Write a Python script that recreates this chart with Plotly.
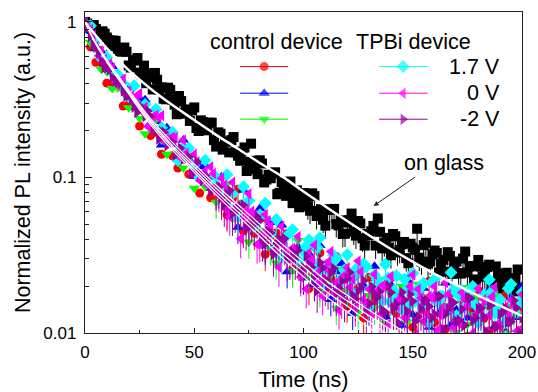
import plotly.graph_objects as go

# ---------------- data ----------------
T_GLASS = [0, 2, 4, 6, 8, 10, 12, 14, 16, 18, 20, 22, 24, 26, 28, 30, 32, 34, 36, 38,
           40, 42, 44, 46, 48, 50, 52, 54, 56, 58, 60, 62, 64, 66, 68, 70, 72, 74, 76, 78,
           80, 82, 84, 86, 88, 90, 92, 94, 96, 98, 100, 102, 104, 106, 108, 110, 112, 114, 116, 118,
           120, 122, 124, 126, 128, 130, 132, 134, 136, 138, 140, 142, 144, 146, 148, 150, 152, 154, 156, 158,
           160, 162, 164, 166, 168, 170, 172, 174, 176, 178, 180, 182, 184, 186, 188, 190, 192, 194, 196, 198, 200]

GLASS = [1.000, 0.933, 0.955, 0.832, 0.871, 0.794, 0.698, 0.755, 0.649, 0.685,
         0.525, 0.568, 0.586, 0.459, 0.404, 0.468, 0.470, 0.366, 0.321, 0.378,
         0.316, 0.255, 0.310, 0.274, 0.231, 0.282, 0.199, 0.227, 0.201, 0.225,
         0.158, 0.191, 0.170, 0.145, 0.182, 0.138, 0.147, 0.110, 0.165, 0.113,
         0.129, 0.0929, 0.104, 0.106, 0.0780, 0.0933, 0.0762, 0.0942, 0.0769, 0.0643,
         0.0794, 0.0652, 0.0791, 0.0565, 0.0625, 0.0490, 0.0622, 0.0628, 0.0492, 0.0433,
         0.0513, 0.0586, 0.0423, 0.0506, 0.0365, 0.0427, 0.0488, 0.0545, 0.0350, 0.0409,
         0.0316, 0.0419, 0.0342, 0.0385, 0.0281, 0.0355, 0.0468, 0.0288, 0.0380, 0.0288,
         0.0339, 0.0245, 0.0295, 0.0331, 0.0240, 0.0288, 0.0241, 0.0334, 0.0267, 0.0213,
         0.0295, 0.0230, 0.0265, 0.0193, 0.0268, 0.0209, 0.0241, 0.0221, 0.0185, 0.0256,
         0.0195]

T_GLASS_ODD = [1, 3, 5, 7, 9, 11, 13, 15, 17, 19, 21, 23, 25, 27, 29, 31, 33, 35, 37, 39,
               41, 43, 45, 47, 49, 51, 53, 55, 57, 59, 61, 63, 65, 67, 69, 71, 73, 75, 77, 79,
               81, 83, 85, 87, 89, 91, 93, 95, 97, 99, 101, 103, 105, 107, 109, 111, 113, 115, 117, 119,
               121, 123, 125, 127, 129, 131, 133, 135, 137, 139, 141, 143, 145, 147, 149, 151, 153, 155, 157, 159,
               161, 163, 165, 167, 169, 171, 173, 175, 177, 179, 181, 183, 185, 187, 189, 191, 193, 195, 197, 199]

GLASS_ODD = [0.977, 0.902, 0.900, 0.813, 0.841, 0.762, 0.760, 0.668, 0.644, 0.643,
             0.509, 0.564, 0.473, 0.524, 0.440, 0.368, 0.425, 0.380, 0.318, 0.366,
             0.294, 0.334, 0.257, 0.261, 0.270, 0.208, 0.233, 0.207, 0.225, 0.174,
             0.195, 0.151, 0.170, 0.174, 0.145, 0.128, 0.156, 0.126, 0.128, 0.105,
             0.123, 0.0970, 0.0989, 0.108, 0.0796, 0.0873, 0.0877, 0.0684, 0.0826, 0.0690,
             0.0728, 0.0611, 0.0759, 0.0608, 0.0535, 0.0619, 0.0625, 0.0501, 0.0530, 0.0435,
             0.0532, 0.0449, 0.0525, 0.0406, 0.0433, 0.0451, 0.0365, 0.0447, 0.0378, 0.0352,
             0.0433, 0.0330, 0.0372, 0.0303, 0.0375, 0.0343, 0.0305, 0.0367, 0.0279, 0.0320,
             0.0327, 0.0278, 0.0248, 0.0313, 0.0272, 0.0243, 0.0301, 0.0245, 0.0270, 0.0221,
             0.0267, 0.0233, 0.0275, 0.0210, 0.0237, 0.0193, 0.0244, 0.0204, 0.0225, 0.0192]

T_DEV = [0, 2.5, 5, 7.5, 10, 12.5, 15, 17.5, 20, 22.5, 25, 27.5, 30, 32.5, 35, 37.5, 40,
         42.5, 45, 47.5, 50, 52.5, 55, 57.5, 60, 62.5, 65, 67.5, 70, 72.5, 75, 77.5, 80,
         82.5, 85, 87.5, 90, 92.5, 95, 97.5, 100, 102.5, 105, 107.5, 110, 112.5, 115, 117.5, 120,
         122.5, 125, 127.5, 130, 132.5, 135, 137.5, 140, 142.5, 145, 147.5, 150, 152.5, 155, 157.5, 160,
         162.5, 165, 167.5, 170, 172.5, 175, 177.5, 180, 182.5, 185, 187.5, 190, 192.5, 195, 197.5, 200]

T_DEV_MID = [1.25, 3.75, 6.25, 8.75, 11.25, 13.75, 16.25, 18.75, 21.25, 23.75, 26.25, 28.75,
             31.25, 33.75, 36.25, 38.75, 41.25, 43.75, 46.25, 48.75, 51.25, 53.75, 56.25, 58.75,
             61.25, 63.75, 66.25, 68.75, 71.25, 73.75, 76.25, 78.75, 81.25, 83.75, 86.25, 88.75,
             91.25, 93.75, 96.25, 98.75, 101.25, 103.75, 106.25, 108.75, 111.25, 113.75, 116.25, 118.75,
             121.25, 123.75, 126.25, 128.75, 131.25, 133.75, 136.25, 138.75, 141.25, 143.75, 146.25, 148.75,
             151.25, 153.75, 156.25, 158.75, 161.25, 163.75, 166.25, 168.75, 171.25, 173.75, 176.25, 178.75,
             181.25, 183.75, 186.25, 188.75, 191.25, 193.75, 196.25, 198.75]

CTRL_1V7 = [0.980, 0.692, 0.550, 0.548, 0.404, 0.385, 0.394, 0.288, 0.294,
            0.295, 0.214, 0.263, 0.186, 0.195, 0.141, 0.174, 0.138, 0.115, 0.148, 0.105, 0.104, 0.0794, 0.100, 0.0741, 0.0891,
            0.0750, 0.0575, 0.0733, 0.0841, 0.0452, 0.0575, 0.0437, 0.0570, 0.0320, 0.0422, 0.0440, 0.0318, 0.0437, 0.0257, 0.0285, 0.0335,
            0.0193, 0.0279, 0.0328, 0.0191, 0.0224, 0.0310, 0.0180, 0.0149, 0.0225, 0.0194,
            0.0125, 0.0228, 0.0160, 0.0192, 0.0129, 0.0226, 0.0134, 0.0158, 0.0207, 0.0109,
            0.0186, 0.0142, 0.0215, 0.0117, 0.0157, 0.0106, 0.0181, 0.0122, 0.0163, 0.0095,
            0.0141, 0.0188, 0.0124, 0.0103, 0.0162, 0.0112, 0.0176, 0.0129, 0.0092, 0.0146]

CTRL_0V = [1.000, 0.879, 0.673, 0.649, 0.520, 0.518, 0.391, 0.398, 0.378,
           0.282, 0.324, 0.316, 0.224, 0.229, 0.162, 0.209, 0.163, 0.132, 0.174, 0.131, 0.102, 0.117, 0.120, 0.0851, 0.0871,
           0.101, 0.0676, 0.0804, 0.0479, 0.0832, 0.0475, 0.0569, 0.0631, 0.0363, 0.0513, 0.0376, 0.0495, 0.0248, 0.0347, 0.0359, 0.0226,
           0.0325, 0.0205, 0.0365, 0.0250, 0.0164, 0.0248, 0.0279, 0.0180, 0.0134, 0.0244,
           0.0202, 0.0148, 0.0269, 0.0167, 0.0127, 0.0204, 0.0184, 0.0112, 0.0221, 0.0131,
           0.0161, 0.0194, 0.0109, 0.0175, 0.0136, 0.0210, 0.0113, 0.0141, 0.0189, 0.0125,
           0.0170, 0.0095, 0.0150, 0.0188, 0.0110, 0.0153, 0.0101, 0.0169, 0.0126, 0.0200]

CTRL_M2V = [0.955, 0.738, 0.676, 0.494, 0.481, 0.373, 0.377, 0.358, 0.281,
            0.316, 0.240, 0.191, 0.234, 0.236, 0.174, 0.141, 0.182, 0.142, 0.115, 0.132, 0.0851, 0.105, 0.0871, 0.0977, 0.0692,
            0.0813, 0.0912, 0.0543, 0.0582, 0.0692, 0.0385, 0.0562, 0.0457, 0.0543, 0.0347, 0.0282, 0.0412, 0.0335, 0.0251, 0.0394, 0.0257,
            0.0232, 0.0350, 0.0187, 0.0282, 0.0238, 0.0144, 0.0256, 0.0187, 0.0220, 0.0136,
            0.0258, 0.0174, 0.0144, 0.0222, 0.0116, 0.0179, 0.0143, 0.0199, 0.0118, 0.0154,
            0.0206, 0.0117, 0.0171, 0.0097, 0.0174, 0.0132, 0.0150, 0.0101, 0.0196, 0.0114,
            0.0131, 0.0169, 0.0095, 0.0146, 0.0172, 0.0114, 0.0100, 0.0149, 0.0131, 0.0102]

TPBI_1V7 = [0.977, 0.946, 0.755, 0.583, 0.592, 0.472, 0.457, 0.400, 0.331,
            0.389, 0.282, 0.295, 0.214, 0.275, 0.209, 0.170, 0.195, 0.129, 0.155, 0.154, 0.120, 0.100, 0.129, 0.0955, 0.0995,
            0.0804, 0.104, 0.0785, 0.0556, 0.0871, 0.0708, 0.0484, 0.0575, 0.0684, 0.0437, 0.0537, 0.0309, 0.0422, 0.0462, 0.0295, 0.0335,
            0.0396, 0.0261, 0.0409, 0.0201, 0.0279, 0.0302, 0.0225, 0.0319, 0.0178, 0.0242,
            0.0279, 0.0147, 0.0236, 0.0195, 0.0277, 0.0158, 0.0233, 0.0142, 0.0193, 0.0242,
            0.0160, 0.0209, 0.0117, 0.0222, 0.0173, 0.0143, 0.0245, 0.0129, 0.0187, 0.0152,
            0.0199, 0.0116, 0.0175, 0.0220, 0.0134, 0.0164, 0.0118, 0.0206, 0.0148, 0.0182]

# extra 1.7 V samples between the grid points, from 101.25 ns on
TPBI_1V7_MID_LATE = [0.0363, 0.0288, 0.0355, 0.0245, 0.0275, 0.0316, 0.0204, 0.0254, 0.0224, 0.0256,
                     0.0193, 0.0266, 0.0197, 0.0221, 0.0160, 0.0226, 0.0188, 0.0170, 0.0222, 0.0153,
                     0.0186, 0.0198, 0.0151, 0.0211, 0.0158, 0.0172, 0.0138, 0.0189, 0.0174, 0.0145,
                     0.0187, 0.0152, 0.0129, 0.0171, 0.0185, 0.0150, 0.0135, 0.0193, 0.0139, 0.0158]

TPBI_0V = [0.990, 0.895, 0.695, 0.661, 0.522, 0.506, 0.393, 0.429, 0.360,
           0.302, 0.347, 0.283, 0.209, 0.251, 0.250, 0.178, 0.182, 0.138, 0.174, 0.129, 0.141, 0.0955, 0.110, 0.117, 0.0813,
           0.0989, 0.0617, 0.0933, 0.0661, 0.0556, 0.0785, 0.0575, 0.0380, 0.0578, 0.0484, 0.0343, 0.0486, 0.0331, 0.0351, 0.0417, 0.0245,
           0.0327, 0.0368, 0.0214, 0.0262, 0.0334, 0.0211, 0.0164, 0.0263, 0.0222, 0.0290,
           0.0165, 0.0191, 0.0239, 0.0131, 0.0201, 0.0232, 0.0150, 0.0177, 0.0129, 0.0236,
           0.0191, 0.0119, 0.0172, 0.0199, 0.0131, 0.0211, 0.0145, 0.0120, 0.0182, 0.0148,
           0.0100, 0.0193, 0.0164, 0.0130, 0.0197, 0.0110, 0.0147, 0.0163, 0.0103, 0.0177]

TPBI_0V_MID = [0.910, 0.820, 0.607, 0.573, 0.538, 0.430, 0.417, 0.340, 0.334, 0.337,
               0.265, 0.213, 0.247, 0.242, 0.171, 0.177, 0.180, 0.136, 0.143, 0.107,
               0.126, 0.106, 0.0891, 0.106, 0.0796, 0.0895, 0.0561, 0.0635, 0.0403, 0.0610,
               0.0607, 0.0372, 0.0436, 0.0526, 0.0333, 0.0265, 0.0364, 0.0302, 0.0346, 0.0229,
               0.0192, 0.0295, 0.0243, 0.0173, 0.0287, 0.0183, 0.0140, 0.0235, 0.0196, 0.0146,
               0.0248, 0.0156, 0.0132, 0.0186, 0.0203, 0.0114, 0.0150, 0.0165, 0.0126, 0.0199,
               0.0098, 0.0168, 0.0133, 0.0170, 0.0104, 0.0144, 0.0177, 0.0108, 0.0115, 0.0167,
               0.0095, 0.0131, 0.0146, 0.0100, 0.0171, 0.0114, 0.0088, 0.0136, 0.0150, 0.0104]

TPBI_M2V = [1.000, 0.805, 0.689, 0.558, 0.506, 0.439, 0.410, 0.360, 0.337,
            0.283, 0.289, 0.247, 0.248, 0.199, 0.197, 0.160, 0.169, 0.145, 0.131, 0.136, 0.108, 0.106, 0.103, 0.0809, 0.0859,
            0.0740, 0.0780, 0.0585, 0.0632, 0.0665, 0.0499, 0.0501, 0.0528, 0.0378, 0.0439, 0.0371, 0.0391, 0.0301, 0.0332, 0.0341, 0.0262,
            0.0277, 0.0229, 0.0284, 0.0221, 0.0244, 0.0179, 0.0216, 0.0224, 0.0175, 0.0186,
            0.0217, 0.0154, 0.0179, 0.0185, 0.0136, 0.0182, 0.0154, 0.0183, 0.0138, 0.0160,
            0.0127, 0.0161, 0.0148, 0.0132, 0.0172, 0.0133, 0.0158, 0.0119, 0.0142, 0.0169,
            0.0120, 0.0143, 0.0127, 0.0152, 0.0111, 0.0132, 0.0144, 0.0118, 0.0145, 0.0125]

TPBI_M2V_MID = [0.920, 0.716, 0.632, 0.508, 0.493, 0.416, 0.405, 0.333, 0.318, 0.262,
                0.278, 0.268, 0.210, 0.176, 0.195, 0.166, 0.139, 0.154, 0.132, 0.106,
                0.126, 0.0957, 0.0973, 0.0849, 0.0873, 0.0668, 0.0824, 0.0612, 0.0647, 0.0471,
                0.0530, 0.0560, 0.0399, 0.0449, 0.0320, 0.0407, 0.0405, 0.0304, 0.0305, 0.0249,
                0.0312, 0.0265, 0.0187, 0.0263, 0.0196, 0.0261, 0.0194, 0.0163, 0.0245, 0.0166,
                0.0196, 0.0138, 0.0198, 0.0169, 0.0140, 0.0201, 0.0145, 0.0115, 0.0163, 0.0177,
                0.0119, 0.0143, 0.0162, 0.0125, 0.0172, 0.0106, 0.0143, 0.0157, 0.0121, 0.0112,
                0.0167, 0.0125, 0.0144, 0.0102, 0.0153, 0.0110, 0.0137, 0.0118, 0.0162, 0.0101]

# fitted curves
T_FIT_GLASS = [0, 10, 20, 30, 40, 50, 60, 70, 80, 90, 100, 120, 140, 160, 180, 200]
FIT_GLASS = [1.0, 0.676, 0.490, 0.372, 0.292, 0.234, 0.188, 0.153, 0.124, 0.102,
             0.0813, 0.0525, 0.0347, 0.0240, 0.0174, 0.0129]

T_FIT_DEV = [0, 5, 10, 20, 30, 40, 50, 60, 70, 80, 90, 100, 110, 120, 130, 140, 150]
FIT_DEV_A = [1.0, 0.731, 0.571, 0.366, 0.239, 0.168, 0.122, 0.0895, 0.0670, 0.0501,
             0.0375, 0.0287, 0.0219, 0.0175, 0.0140, 0.0115, 0.0094]
FIT_DEV_B = [1.0, 0.726, 0.565, 0.358, 0.232, 0.161, 0.117, 0.0853, 0.0634, 0.0471,
             0.0351, 0.0267, 0.0203, 0.0161, 0.0129, 0.0105, 0.0085]
FIT_DEV_C = [1.0, 0.723, 0.558, 0.351, 0.226, 0.156, 0.112, 0.0811, 0.0600, 0.0444,
             0.0327, 0.0248, 0.0187, 0.0149, 0.0118, 0.0095, 0.0077]
FIT_DEV_D = [1.0, 0.718, 0.552, 0.344, 0.219, 0.150, 0.108, 0.0773, 0.0568, 0.0417,
             0.0306, 0.0230, 0.0173, 0.0137, 0.0108, 0.0087, 0.0070]

X_TICKS = [0, 50, 100, 150, 200]
Y_TICKS = [0.01, 0.1, 1]
Y_TICK_TEXT = ["0.01", "0.1", "1"]
VOLT_LABELS = ["1.7 V", "0 V", "-2 V"]

# ---------------- styling ----------------
FONT = "Liberation Sans, Arial, sans-serif"
C_RED, C_BLUE, C_GREEN = "#FF0000", "#0000FF", "#00FF00"
C_CYAN, C_MAG, C_PUR = "#00FFFF", "#FF00FF", "#990099"
TXT = 21.5
SPLIT_DEV = 24      # index from which the (noisy) points show their error bars
SPLIT_GLASS = 50

fig = go.Figure()


def add_points(parts, symbol, color, size, err_pct):
    """parts: list of (t, v, with_error_bars) pieces drawn as one series."""
    for t, v, with_err in parts:
        err = dict(visible=False)
        if with_err:
            err = dict(type="percent", symmetric=False, value=0, valueminus=err_pct,
                       color=color, thickness=1, width=0)
        fig.add_trace(go.Scatter(
            x=t, y=v, mode="markers", showlegend=False, hoverinfo="skip",
            marker=dict(symbol=symbol, color=color, size=size, line=dict(width=0)),
            error_y=err))


def dev_parts(t_a, v_a, t_b=None, v_b=None):
    parts = [(t_a[:SPLIT_DEV], v_a[:SPLIT_DEV], False), (t_a[SPLIT_DEV:], v_a[SPLIT_DEV:], True)]
    if t_b is not None:
        parts += [(t_b[:SPLIT_DEV], v_b[:SPLIT_DEV], False), (t_b[SPLIT_DEV:], v_b[SPLIT_DEV:], True)]
    return parts


add_points([(T_GLASS[:SPLIT_GLASS] + T_GLASS_ODD[:SPLIT_GLASS], GLASS[:SPLIT_GLASS] + GLASS_ODD[:SPLIT_GLASS], False),
            (T_GLASS[SPLIT_GLASS:] + T_GLASS_ODD[SPLIT_GLASS:], GLASS[SPLIT_GLASS:] + GLASS_ODD[SPLIT_GLASS:], True)],
           "square", "#000000", 10, 18)
add_points(dev_parts(T_DEV, CTRL_1V7), "circle", C_RED, 9, 22)
add_points(dev_parts(T_DEV, CTRL_0V), "triangle-up", C_BLUE, 10, 22)
add_points(dev_parts(T_DEV, CTRL_M2V), "triangle-down", C_GREEN, 10, 22)
add_points(dev_parts(T_DEV, TPBI_1V7) + [(T_DEV_MID[40:], TPBI_1V7_MID_LATE, True)],
           "diamond", C_CYAN, 10, 22)
add_points(dev_parts(T_DEV, TPBI_0V, T_DEV_MID, TPBI_0V_MID), "triangle-left", C_MAG, 10, 25)
add_points(dev_parts(T_DEV, TPBI_M2V, T_DEV_MID, TPBI_M2V_MID), "triangle-right", C_PUR, 10, 28)

for fit in (FIT_DEV_A, FIT_DEV_B, FIT_DEV_C, FIT_DEV_D):
    fig.add_trace(go.Scatter(x=T_FIT_DEV, y=fit, mode="lines", showlegend=False,
                             hoverinfo="skip", line=dict(color="white", width=1.2, shape="spline")))
fig.add_trace(go.Scatter(x=T_FIT_GLASS, y=FIT_GLASS, mode="lines", showlegend=False,
                         hoverinfo="skip", line=dict(color="white", width=2.5, shape="spline")))

# ---------------- hand-drawn legend on a hidden overlay axis ----------------
LEG_ROWS = [0.830, 0.747, 0.666]
LEG_LEFT = [0.355, 0.410, 0.465]
LEG_RIGHT = [0.673, 0.728, 0.784]
left_items = [("circle", C_RED, 9), ("triangle-up", C_BLUE, 10), ("triangle-down", C_GREEN, 10)]
right_items = [("diamond", C_CYAN, 10), ("triangle-left", C_MAG, 10), ("triangle-right", C_PUR, 10)]
for xs, items in ((LEG_LEFT, left_items), (LEG_RIGHT, right_items)):
    for row, (sym, col, sz) in zip(LEG_ROWS, items):
        fig.add_trace(go.Scatter(x=xs, y=[row] * 3, xaxis="x2", yaxis="y2", mode="lines+markers",
                                 showlegend=False, hoverinfo="skip", line=dict(color=col, width=1),
                                 marker=dict(symbol=sym, color=col, size=[0, sz, 0], line=dict(width=0))))

annotations = [
    dict(text="control device", x=0.439, y=0.9075, xref="paper", yref="paper",
         xanchor="center", yanchor="middle", showarrow=False, font=dict(size=TXT)),
    dict(text="TPBi device", x=0.752, y=0.9075, xref="paper", yref="paper",
         xanchor="center", yanchor="middle", showarrow=False, font=dict(size=TXT)),
    dict(text="on glass", x=0.821, y=0.53, xref="paper", yref="paper",
         xanchor="center", yanchor="middle", showarrow=False, font=dict(size=TXT)),
    dict(text="", x=132.1, y=-1.183, xref="x", yref="y", showarrow=True,
         ax=43, ay=-30, arrowhead=2, arrowsize=1, arrowwidth=1, arrowcolor="#222222"),
]
for row, lab in zip(LEG_ROWS, VOLT_LABELS):
    annotations.append(dict(text=lab, x=0.954, y=row, xref="paper", yref="paper",
                            xanchor="right", yanchor="middle", showarrow=False, font=dict(size=TXT)))

axis_common = dict(showline=True, linecolor="#222222", linewidth=1.3, mirror=True,
                   showgrid=False, zeroline=False, ticks="inside", tickcolor="#222222",
                   tickwidth=1.2, tickfont=dict(size=17, color="black"), automargin=False)

fig.update_layout(
    width=538, height=392,
    margin=dict(l=85, r=16, t=12, b=59),
    paper_bgcolor="white", plot_bgcolor="white",
    font=dict(family=FONT, color="black"),
    xaxis=dict(range=[0, 200], tickmode="array", tickvals=X_TICKS, ticklen=5,
               minor=dict(ticks="inside", ticklen=3, tickvals=[25, 75, 125, 175], tickcolor="#222222"),
               title=dict(text="Time (ns)", font=dict(size=TXT), standoff=12),
               ticklabelstandoff=3, **axis_common),
    yaxis=dict(type="log", range=[-2, 0.064], tickmode="array", tickvals=Y_TICKS,
               ticktext=Y_TICK_TEXT, ticklen=7,
               minor=dict(ticks="inside", ticklen=4, tickcolor="#222222",
                          tickvals=[0.02, 0.03, 0.04, 0.05, 0.06, 0.07, 0.08, 0.09,
                                    0.2, 0.3, 0.4, 0.5, 0.6, 0.7, 0.8, 0.9]),
               title=dict(text="Normalized PL intensity (a.u.)", font=dict(size=TXT), standoff=6),
               ticklabelstandoff=4, **axis_common),
    xaxis2=dict(overlaying="x", range=[0, 1], visible=False, fixedrange=True),
    yaxis2=dict(overlaying="y", range=[0, 1], visible=False, fixedrange=True),
    annotations=annotations,
)

fig.write_html("out.html", config={"displayModeBar": False})
